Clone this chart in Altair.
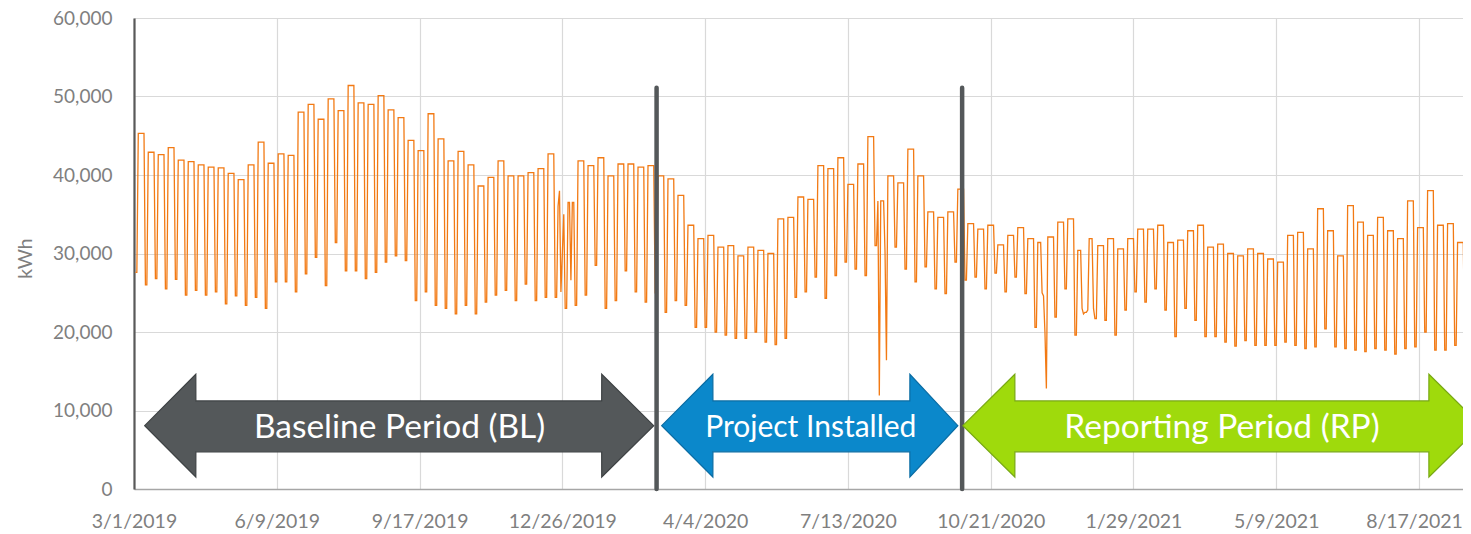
import altair as alt
import pandas as pd

# ---------------- data (kWh in thousands) ----------------
# Each week starts on a Saturday, beginning 2019-03-02: 2 weekend days, then 5 weekdays.
FIRST_SATURDAY = "2019-03-02"

weekday_kwh = [
    45.3, 42.9, 42.6, 43.5, 41.9, 41.7, 41.3, 41.0, 40.9, 40.2, 39.4, 41.3, 44.2, 41.5,
    42.7, 42.5, 48.0, 49.0, 47.1, 49.7, 48.2, 51.4, 49.2, 49.0, 50.1, 48.3, 47.3, 44.4,
    43.1, 47.8, 44.6, 41.8, 43.0, 41.3, 38.6, 39.7, 41.8, 39.9, 39.9, 40.3, 40.8, 42.7,
    38.0, 36.5, 41.8, 41.2, 42.2, 39.9, 41.4, 41.4, 41.0, 41.2, 39.9, 39.5, 37.4, 33.6,
    31.9, 32.3, 30.8, 31.0, 29.7, 30.8, 30.4, 30.0, 34.4, 34.6, 37.2, 36.9, 41.2, 40.8,
    42.2, 38.8, 41.4, 44.9, 36.7, 39.9, 39.0, 43.3, 39.9, 35.3, 34.6, 35.3, 38.2, 33.8,
    33.1, 33.6, 31.1, 32.3, 33.3, 31.9, 31.4, 32.1, 34.0, 34.4, 30.4, 31.9, 31.0, 31.9,
    30.6, 31.9, 33.1, 33.1, 33.6, 31.4, 31.7, 32.9, 33.6, 30.8, 31.2, 30.0, 29.7, 30.6,
    30.0, 29.3, 28.9, 32.3, 32.7, 30.6, 35.7, 32.9, 29.7, 36.1, 34.0, 32.3, 34.6, 32.9,
    31.9, 36.7, 33.3, 38.0, 33.6, 33.8, 31.4, 31.9,
]
weekend_kwh = [
    27.6, 26.0, 26.8, 25.5, 26.7, 24.7, 25.3, 24.7, 25.1, 23.6, 24.6, 23.4, 24.4, 23.0,
    26.4, 26.4, 25.1, 27.4, 29.5, 25.9, 31.4, 27.8, 27.8, 26.8, 27.6, 28.9, 29.7, 29.1,
    24.0, 25.1, 23.4, 23.0, 22.3, 23.4, 22.3, 23.8, 24.7, 25.3, 24.0, 26.1, 24.0, 24.4,
    24.4, 23.0, 23.4, 24.7, 28.5, 23.0, 24.0, 27.8, 25.1, 23.8, 25.0, 22.5, 24.0, 23.4,
    20.6, 20.6, 20.0, 19.6, 19.2, 19.2, 20.0, 18.7, 18.4, 19.2, 24.4, 25.1, 27.0, 24.3,
    27.2, 28.9, 28.0, 27.2, 31.0, 30.2, 30.8, 28.0, 26.4, 28.3, 25.5, 24.9, 28.9, 26.6,
    27.0, 25.5, 27.5, 25.1, 27.0, 24.9, 20.6, 20.0, 21.9, 25.5, 19.6, 22.5, 21.7, 21.5,
    19.6, 22.8, 25.1, 23.8, 25.5, 22.8, 19.4, 23.0, 21.5, 19.4, 19.4, 18.7, 18.2, 18.9,
    18.3, 18.3, 18.3, 18.7, 18.3, 17.9, 18.1, 20.4, 18.1, 17.9, 17.7, 17.5, 17.9, 17.7,
    17.2, 17.9, 18.1, 20.0, 17.7, 17.7, 18.3, 17.2,
]
# holidays / outages read individually
special_dates = [
    "2019-12-23", "2019-12-24", "2019-12-25", "2019-12-26", "2019-12-27", "2020-01-01",
    "2020-08-04", "2020-08-09", "2020-11-26", "2020-11-27", "2020-11-28", "2020-11-29",
    "2020-12-24", "2020-12-25", "2020-12-28", "2021-01-01",
]
special_kwh = [
    36.0, 38.0, 25.1, 30.0, 35.0, 26.6,
    11.9, 16.4, 25.0, 24.6, 20.0, 12.8,
    23.0, 22.3, 22.8, 23.0,
]

x_tick_labels = ["3/1/2019", "6/9/2019", "9/17/2019", "12/26/2019", "4/4/2020",
                 "7/13/2020", "10/21/2020", "1/29/2021", "5/9/2021", "8/17/2021"]
y_ticks = [0, 10000, 20000, 30000, 40000, 50000, 60000]

marker_dates = ["2020-03-01T00:00", "2020-10-01T00:00"]
marker_top = 51100

arrow_names = ["Baseline Period (BL)", "Project Installed", "Reporting Period (RP)"]
arrow_tip_left = ["2019-03-08T12:00", "2020-03-04T14:00", "2020-10-01T12:00"]
arrow_head_left = ["2019-04-13T07:00", "2020-04-09T10:00", "2020-11-06T22:00"]
arrow_head_right = ["2020-01-22T14:00", "2020-08-25T10:00", "2021-08-23T22:00"]
arrow_tip_right = ["2020-02-28T00:00", "2020-09-28T00:00", "2021-09-29T10:00"]
arrow_fill = ["#54585A", "#0B88CB", "#9FDA0C"]
arrow_stroke = ["#3E4244", "#0A6CA3", "#78A814"]
head_top, shaft_top, arrow_mid, shaft_bottom, head_bottom = 14620, 11220, 8070, 4740, 1525
label_dates = ["2019-09-03T00:00", "2020-06-17T00:00", "2021-04-01T00:00"]
label_sizes = [33.5, 30, 33.5]
label_y = 7750

# ---------------- build tables ----------------
start = pd.Timestamp(FIRST_SATURDAY)
rows = []
for k, (hi, lo) in enumerate(zip(weekday_kwh, weekend_kwh)):
    for d in range(7):
        day = start + pd.Timedelta(days=7 * k + d)
        rows.append({"date": day, "kwh": (lo if d < 2 else hi) * 1000})
df = pd.DataFrame(rows)
for ds, v in zip(special_dates, special_kwh):
    df.loc[df["date"] == pd.Timestamp(ds), "kwh"] = v * 1000
df["date"] = df["date"].dt.strftime("%Y-%m-%dT%H:%M")


def dt(s):
    t = pd.Timestamp(s)
    return alt.DateTime(year=t.year, month=t.month, date=t.day, hours=t.hour, minutes=t.minute)


tick_dates = [dt(pd.to_datetime(s, format="%m/%d/%Y")) for s in x_tick_labels]

# plot area: 1329 px wide at 1.4275 px/day -> ends 9/16/2021 19:00
xscale = alt.Scale(domain=[dt("2019-03-01"), dt("2021-09-16T19:00")], nice=False)
yscale = alt.Scale(domain=[0, 60000], nice=False)

FONT = "Lato"
GREY_TXT = "#7F7F7F"
Y_TITLE = "kWh"

line = alt.Chart(df).mark_line(color="#F27A14", strokeWidth=1.3, clip=True).encode(
    x=alt.X("date:T", scale=xscale, title=None,
            axis=alt.Axis(values=tick_dates,
                          format="%-m/%-d/%Y", labelFont=FONT, labelFontSize=19.5, labelColor=GREY_TXT,
                          labelBaseline="middle", labelPadding=32, ticks=False, tickSize=0,
                          labelOffset={"condition": {"test": "datum.value > datetime(2021, 6, 1)", "value": -5},
                                       "value": 0},
                          grid=True, gridColor="#D9D9D9", gridWidth=1.2,
                          domainColor="#A6A6A6", domainWidth=1.5, labelOverlap=False, labelBound=False,
                          labelFlush=False)),
    y=alt.Y("kwh:Q", scale=yscale, title=Y_TITLE,
            axis=alt.Axis(values=y_ticks, format=",d", labelFont=FONT, labelFontSize=19,
                          labelColor=GREY_TXT, labelPadding=22, ticks=False, tickSize=0,
                          grid=True, gridColor="#D9D9D9", gridWidth=1.2,
                          domainColor="#595959", domainWidth=2.2,
                          titleFont=FONT, titleFontSize=19.5, titleFontWeight="normal",
                          titleColor=GREY_TXT, titleX=-109, titleY=240, titleAlign="center",
                          titleBaseline="middle", titleAngle=270)),
)

mk = pd.DataFrame({"date": marker_dates, "top": [marker_top] * len(marker_dates), "bottom": [0] * len(marker_dates)})
markers = alt.Chart(mk).mark_rule(color="#54585A", strokeWidth=4.5, strokeCap="round").encode(
    x=alt.X("date:T", scale=xscale, title=None),
    y=alt.Y("top:Q", scale=yscale, title=Y_TITLE),
    y2="bottom:Q",
)

layers = [line, markers]
for i, name in enumerate(arrow_names):
    t0, t1, t2, t3 = (pd.Timestamp(s) for s in (arrow_tip_left[i], arrow_head_left[i],
                                                  arrow_head_right[i], arrow_tip_right[i]))
    eps = pd.Timedelta(hours=1)
    pts = [
        (t0, arrow_mid, arrow_mid),
        (t1, head_top, head_bottom),
        (t1 + eps, shaft_top, shaft_bottom),
        (t2 - eps, shaft_top, shaft_bottom),
        (t2, head_top, head_bottom),
        (t3, arrow_mid, arrow_mid),
    ]
    adf = pd.DataFrame([{"date": p[0].strftime("%Y-%m-%dT%H:%M"), "y": p[1], "y2": p[2]} for p in pts])
    layers.append(
        alt.Chart(adf).mark_area(fill=arrow_fill[i], stroke=arrow_stroke[i], strokeWidth=1.2,
                                 interpolate="linear", clip=True, opacity=1).encode(
            x=alt.X("date:T", scale=xscale, title=None),
            y=alt.Y("y:Q", scale=yscale, title=Y_TITLE),
            y2="y2:Q",
        )
    )

tdf = pd.DataFrame({"date": label_dates, "y": [label_y] * 3, "text": arrow_names, "size": label_sizes})
texts = alt.Chart(tdf).mark_text(color="white", font=FONT, align="center", baseline="middle").encode(
    x=alt.X("date:T", scale=xscale, title=None),
    y=alt.Y("y:Q", scale=yscale, title=Y_TITLE),
    text="text:N",
    size=alt.Size("size:Q", scale=None, legend=None),
)
layers.append(texts)

chart = alt.layer(*layers).properties(
    width=1329, height=471,
    autosize=alt.AutoSizeParams(type="none"),
    padding={"left": 126, "top": 10, "right": 0, "bottom": 45},
).configure(background="white", view=alt.ViewConfig(stroke="transparent"))

chart.save("out.html", embed_options={"renderer": "svg", "actions": False})
